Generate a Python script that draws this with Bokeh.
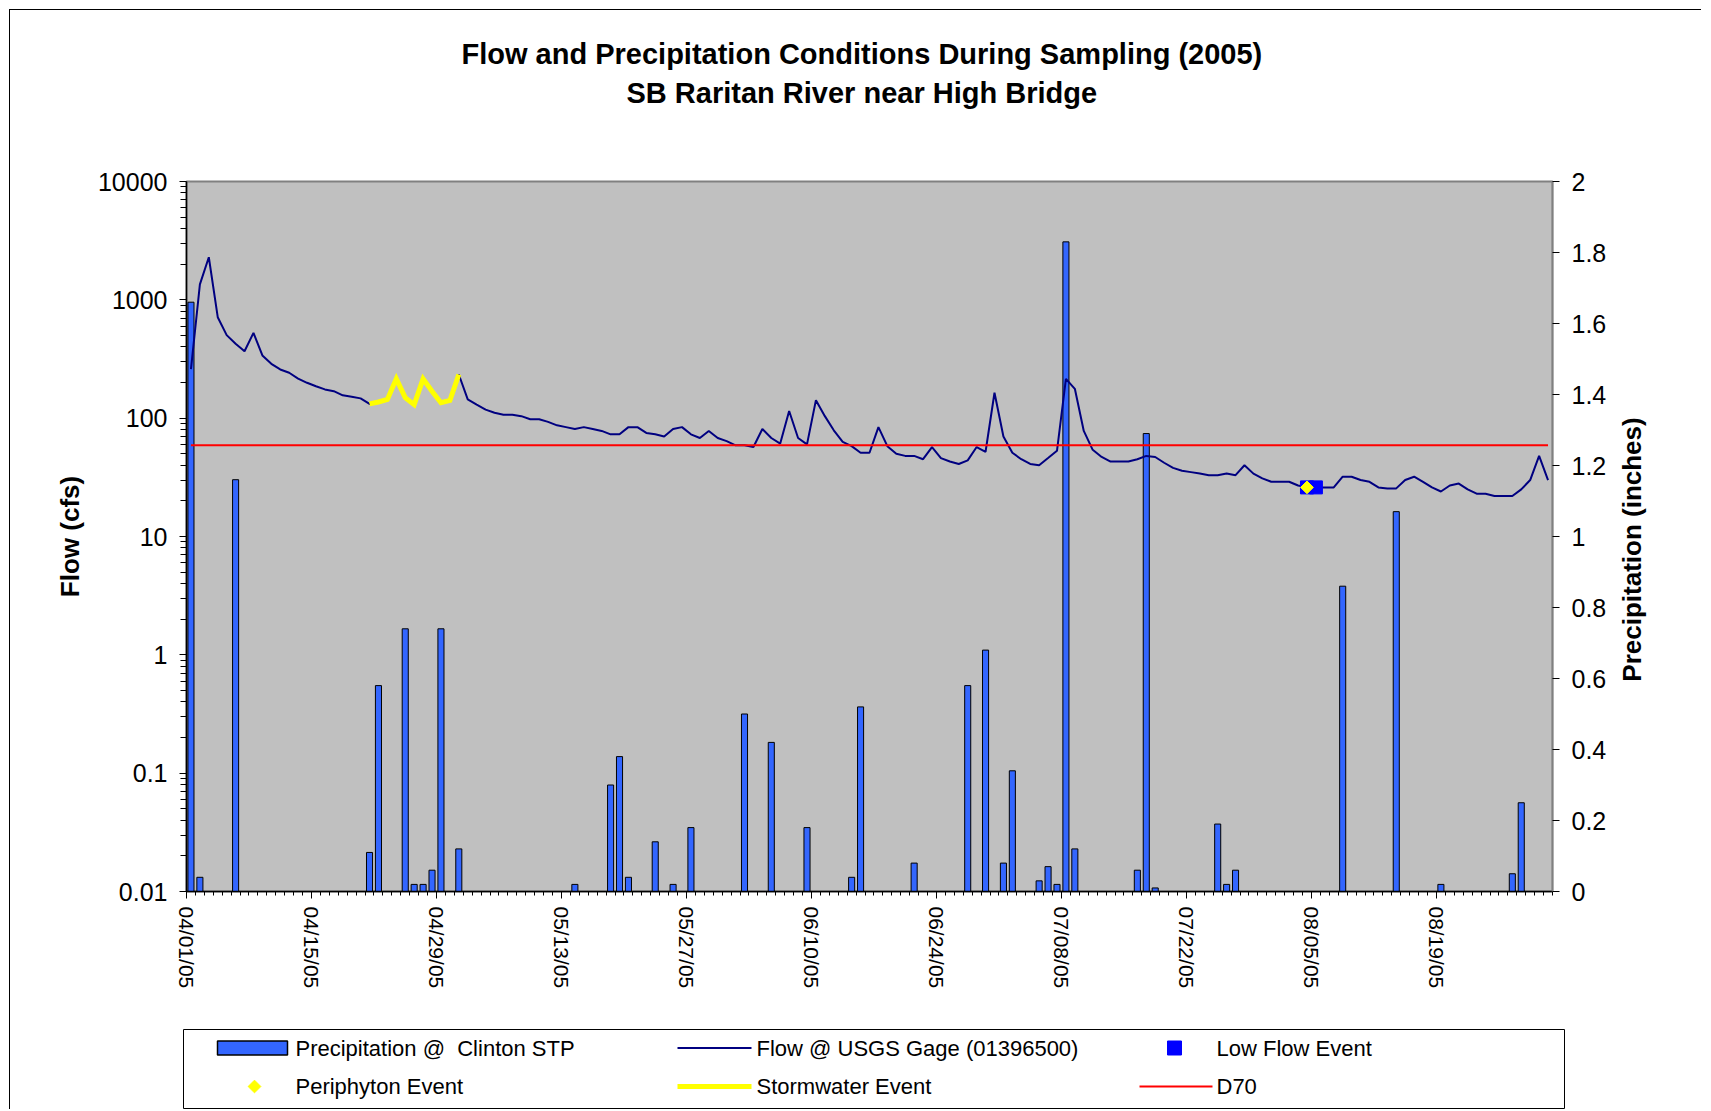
import datetime as dt
import numpy as np
from bokeh.plotting import figure
from bokeh.models import (Range1d, LinearAxis, LinearScale, FixedTicker,
                          NumeralTickFormatter, Title, Plot)
from bokeh.layouts import column, row
from bokeh.embed import file_html
from bokeh.resources import INLINE
from bokeh.core.properties import value

# ---------------- data ----------------
START = "04/01/05"
N_DAYS = 153  # 04/01/05 .. 08/31/05

# daily flow @ USGS gage 01396500 (cfs), 04/01/05 .. 08/31/05
flow_cfs = [
    260, 1350, 2290, 713, 503, 425, 368, 526, 339, 288,
    258, 242, 216, 199, 186, 175, 169, 156, 152, 147,
    132, 137, 144, 215, 149, 130, 215, 169, 135, 141,
    234, 144, 130, 118, 111, 107, 107, 104, 98, 98,
    93, 87, 84, 81, 84, 81, 78, 73, 73, 84,
    84, 75, 73, 70, 81, 84, 73, 68, 78, 68,
    64, 59, 59, 57, 81, 68, 61, 115, 68, 60,
    142, 104, 79, 63, 58, 51, 51, 84, 58, 50,
    48, 48, 45, 57, 46, 43, 41, 44, 57, 52,
    164, 70, 51, 45, 41, 40, 46, 53, 215, 177,
    78, 54, 47, 43, 43, 43, 45, 48, 47, 42,
    38, 36, 35, 34, 33, 33, 34, 33, 40, 34,
    31, 29, 29, 29, 27, 26, 26, 26, 26, 32,
    32, 30, 29, 26, 25.5, 25.5, 30, 32, 29, 26,
    24, 27, 28, 25, 23, 23, 22, 22, 22, 25,
    30, 48, 30,
]

# precipitation @ Clinton STP (inches)
precip_dates = [
    "04/01/05", "04/02/05", "04/06/05", "04/21/05", "04/22/05", "04/25/05",
    "04/26/05", "04/27/05", "04/28/05", "04/29/05", "05/01/05", "05/14/05",
    "05/18/05", "05/19/05", "05/20/05", "05/23/05", "05/25/05", "05/27/05",
    "06/02/05", "06/05/05", "06/09/05", "06/14/05", "06/15/05", "06/21/05",
    "06/27/05", "06/29/05", "07/01/05", "07/02/05", "07/05/05", "07/06/05",
    "07/07/05", "07/08/05", "07/09/05", "07/16/05", "07/17/05", "07/18/05",
    "07/25/05", "07/26/05", "07/27/05", "08/08/05", "08/14/05", "08/19/05",
    "08/27/05", "08/28/05",
]
precip_in = [
    1.66, 0.04, 1.16, 0.11, 0.58, 0.74,
    0.02, 0.02, 0.06, 0.74, 0.12, 0.02,
    0.30, 0.38, 0.04, 0.14, 0.02, 0.18,
    0.50, 0.42, 0.18, 0.04, 0.52, 0.08,
    0.58, 0.68, 0.08, 0.34, 0.03, 0.07,
    0.02, 1.83, 0.12, 0.06, 1.29, 0.01,
    0.19, 0.02, 0.06, 0.86, 1.07, 0.02,
    0.05, 0.25,
]

storm_start, storm_end = "04/21/05", "05/01/05"
low_flow_dates = ["08/04/05", "08/05/05"]
periphyton_dates = ["08/04/05"]
d70_cfs = 59

x_tick_labels = ["04/01/05", "04/15/05", "04/29/05", "05/13/05", "05/27/05",
                 "06/10/05", "06/24/05", "07/08/05", "07/22/05", "08/05/05",
                 "08/19/05"]
flow_ticks = [0.01, 0.1, 1, 10, 100, 1000, 10000]
precip_ticks = [0, 0.2, 0.4, 0.6, 0.8, 1, 1.2, 1.4, 1.6, 1.8, 2]

# ---------------- helpers ----------------
t0 = dt.datetime.strptime(START, "%m/%d/%y")


def day(s):
    return (dt.datetime.strptime(s, "%m/%d/%y") - t0).days


days = np.arange(N_DAYS)
xc = days + 0.5  # data sit in the middle of each day slot

FONT = "Liberation Sans"
HAS_FA = "frame_align" in Plot.properties()
X0 = 10   # page x/y where the chart content starts (9px margin + 1px border)

MAIN_W, MAIN_H = 1602, 1010
p = figure(width=MAIN_W, height=MAIN_H, title=None,
           x_range=Range1d(0, N_DAYS), y_range=Range1d(0.01, 10000),
           y_axis_type="log", output_backend="svg", toolbar_location=None,
           min_border_left=176, min_border_right=60,
           min_border_top=171, min_border_bottom=129,
           background_fill_color="#C0C0C0", border_fill_color="white",
           outline_line_color="#808080", outline_line_width=2)
if HAS_FA:
    p.frame_align = False
p.xgrid.visible = False
p.ygrid.visible = False
p.extra_y_ranges = {"precip": Range1d(0, 2)}
p.extra_y_scales = {"precip": LinearScale()}

# precipitation bars (right axis)
pd_idx = [day(s) + 0.5 for s in precip_dates]
p.vbar(x=pd_idx, top=precip_in, bottom=0, width=0.68, y_range_name="precip",
       fill_color="#3366FF", line_color="black", line_width=1)

# flow
p.line(xc, flow_cfs, line_color="#000080", line_width=2)
# D70
p.line(xc, [d70_cfs] * N_DAYS, line_color="#FF0000", line_width=2)
# stormwater event
s0, s1 = day(storm_start), day(storm_end)
p.line(xc[s0:s1 + 1], flow_cfs[s0:s1 + 1], line_color="#FFFF00", line_width=5,
       line_join="miter")
# low flow event
lf = [day(s) for s in low_flow_dates]
p.scatter([i + 0.5 for i in lf], [flow_cfs[i] for i in lf], marker="square",
          size=13, fill_color="#0000FF", line_color="#0000FF")
# periphyton event
pe = [day(s) for s in periphyton_dates]
p.scatter([i + 0.5 for i in pe], [flow_cfs[i] for i in pe], marker="square",
          angle=np.pi / 4, size=9, fill_color="#FFFF00", line_color="#FFFF00")

# ---- axes ----
xa = p.xaxis[0]
xa.ticker = FixedTicker(ticks=[day(s) for s in x_tick_labels],
                        minor_ticks=list(range(N_DAYS + 1)))
xa.major_label_overrides = {day(s): s for s in x_tick_labels}
xa.major_label_orientation = "vertical"
xa.major_label_text_font = FONT
xa.major_label_text_font_size = "21px"
xa.major_label_text_color = "black"
xa.major_label_standoff = 8
xa.axis_line_color = "black"
xa.axis_line_width = 1.5
xa.major_tick_out = 7
xa.major_tick_in = 0
xa.minor_tick_out = 4
xa.minor_tick_in = 0
xa.major_tick_line_color = "black"
xa.minor_tick_line_color = "black"

ya = p.yaxis[0]
minor = [k * 10.0 ** e for e in range(-2, 4) for k in range(2, 10)]
ya.ticker = FixedTicker(ticks=flow_ticks, minor_ticks=minor)
ya.formatter = NumeralTickFormatter(format="0.[00]")
ya.axis_label = "Flow (cfs)"
ya.axis_label_text_font = FONT
ya.axis_label_text_font_size = "26px"
ya.axis_label_text_font_style = "bold"
ya.axis_label_text_color = "black"
ya.axis_label_standoff = 10
ya.major_label_text_font = FONT
ya.major_label_text_font_size = "25px"
ya.major_label_text_color = "black"
ya.major_label_standoff = 12
ya.axis_line_color = "black"
ya.axis_line_width = 1.5
ya.major_tick_out = 7
ya.major_tick_in = 0
ya.minor_tick_out = 6
ya.minor_tick_in = 0

ra = LinearAxis(y_range_name="precip",
                ticker=FixedTicker(ticks=precip_ticks, minor_ticks=[]),
                formatter=NumeralTickFormatter(format="0.[0]"))
ra.major_label_text_font = FONT
ra.major_label_text_font_size = "25px"
ra.major_label_text_color = "black"
ra.major_label_standoff = 12
ra.axis_line_color = "#808080"
ra.axis_line_width = 1.5
ra.major_tick_out = 7
ra.major_tick_in = 0
ra.minor_tick_out = 0
ra.minor_tick_in = 0
p.add_layout(ra, "right")

# ---- titles (later-added = further from frame) ----
p.add_layout(Title(text=" ", text_font=FONT, text_font_size="28px",
                   standoff=40), "above")
p.add_layout(Title(text="SB Raritan River near High Bridge", align="left",
                   offset=440, text_font=FONT, text_font_size="29px",
                   text_color="black", text_font_style="bold", standoff=0),
             "above")
p.add_layout(Title(text="Flow and Precipitation Conditions During Sampling (2005)",
                   align="left", offset=275, text_font=FONT,
                   text_font_size="29px", text_color="black",
                   text_font_style="bold", standoff=10), "above")

# ---------------- right axis title panel ----------------
SW = 89
side = figure(width=SW, height=MAIN_H, x_range=Range1d(0, SW),
              y_range=Range1d(0, MAIN_H), x_axis_type=None, y_axis_type=None,
              output_backend="svg", toolbar_location=None, min_border=0,
              min_border_left=0, min_border_right=0, min_border_top=0,
              min_border_bottom=0, outline_line_color=None,
              background_fill_color="white", border_fill_color="white")
if HAS_FA:
    side.frame_align = False
side.xgrid.visible = False
side.ygrid.visible = False
side.text(x=[1631 - (X0 + MAIN_W)], y=[MAIN_H - (549 - X0)],
          text=["Precipitation (inches)"], angle=np.pi / 2,
          text_align="center", text_baseline="middle", text_font=value(FONT),
          text_font_size="26px", text_font_style="bold", text_color="black")

# ---------------- legend panel ----------------
LW, LH = MAIN_W + SW, 89
leg = figure(width=LW, height=LH, x_range=Range1d(X0, X0 + LW),
             y_range=Range1d(LH, 0), x_axis_type=None, y_axis_type=None,
             output_backend="svg", toolbar_location=None, min_border=0,
             min_border_left=0, min_border_right=0, min_border_top=0,
             min_border_bottom=0, outline_line_color=None,
             background_fill_color="white", border_fill_color="white")
if HAS_FA:
    leg.frame_align = False
leg.xgrid.visible = False
leg.ygrid.visible = False
leg.quad(left=[183], right=[1564], top=[9], bottom=[88], fill_color="white",
         line_color="black", line_width=1)
r1, r2 = 27.5, 66
c1, c2, c3 = 217, 677, 1139
leg.quad(left=[c1], right=[c1 + 70], top=[r1 - 7], bottom=[r1 + 7],
         fill_color="#3366FF", line_color="black", line_width=1.5)
leg.line([c2, c2 + 74], [r1, r1], line_color="#000080", line_width=2)
leg.scatter([c3 + 35], [r1], marker="square", size=14, fill_color="#0000FF",
            line_color="#0000FF")
leg.scatter([c1 + 37], [r2], marker="square", angle=np.pi / 4, size=9,
            fill_color="#FFFF00", line_color="#FFFF00")
leg.line([c2, c2 + 74], [r2, r2], line_color="#FFFF00", line_width=5)
leg.line([c3, c3 + 73], [r2, r2], line_color="#FF0000", line_width=2)
leg_texts = ["Precipitation @\u00a0 Clinton STP", "Flow @ USGS Gage (01396500)",
             "Low Flow Event", "Periphyton Event", "Stormwater Event", "D70"]
leg.text(x=[295, 756, 1216] * 2, y=[r1] * 3 + [r2] * 3, text=leg_texts,
         text_baseline="middle", text_align="left", text_font=value(FONT),
         text_font_size="22px", text_color="black")

top_row = row(p, side, spacing=0)
layout = column(top_row, leg, spacing=0, margin=(9, 0, 0, 9),
                styles={"border-left": "1px solid #000000",
                        "border-top": "1px solid #000000"})
open("out.html", "w").write(file_html(layout, INLINE))
